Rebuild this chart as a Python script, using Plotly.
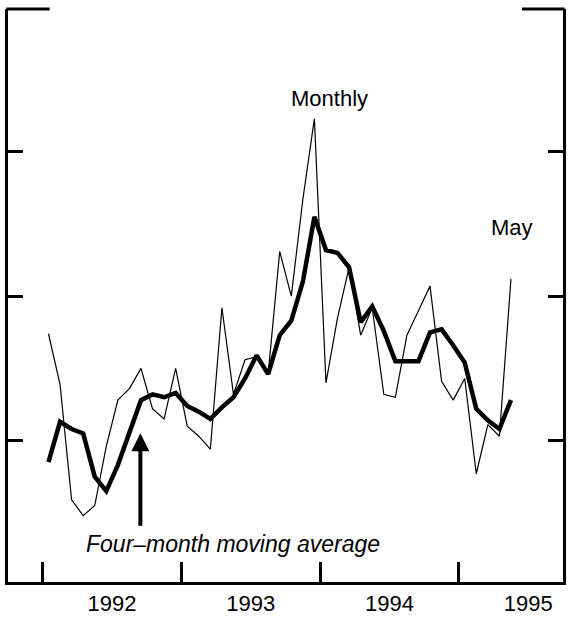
import plotly.graph_objects as go

# Monthly dates: Jan 1992 .. May 1995 (mid-month positions in decimal years)
start_year = 1992
n_months = 41
months = [start_year + (i + 0.5) / 12 for i in range(n_months)]

monthly = [1.74, 1.39, 0.59, 0.48, 0.55, 0.96, 1.28, 1.36, 1.50, 1.22, 1.15, 1.50,
           1.10, 1.03, 0.94, 1.92, 1.32, 1.56, 1.58, 1.46, 2.31, 2.00, 2.67, 3.23,
           1.40, 1.85, 2.20, 1.73, 1.92, 1.32, 1.30, 1.73, 1.90, 2.07, 1.41, 1.28,
           1.43, 0.77, 1.11, 1.03, 2.12]

moving_avg = [0.85, 1.13, 1.08, 1.05, 0.75, 0.65, 0.83, 1.05, 1.28, 1.32, 1.30, 1.33,
              1.24, 1.20, 1.15, 1.23, 1.30, 1.43, 1.59, 1.46, 1.73, 1.83, 2.10, 2.55,
              2.32, 2.30, 2.20, 1.82, 1.93, 1.76, 1.55, 1.55, 1.55, 1.75, 1.77, 1.66,
              1.54, 1.22, 1.14, 1.08, 1.28]

year_ticks = [1992, 1993, 1994, 1995]
year_labels = ["1992", "1993", "1994", "1995"]
y_ticks = [1, 2, 3]

FONT = "Liberation Sans, Arial, sans-serif"

fig = go.Figure()
fig.add_trace(go.Scatter(x=months, y=monthly, mode="lines",
                         line=dict(color="black", width=1.2), name="Monthly"))
fig.add_trace(go.Scatter(x=months, y=moving_avg, mode="lines",
                         line=dict(color="black", width=4.5), name="Four-month moving average"))

fig.update_layout(
    width=568, height=618,
    margin=dict(l=8, r=2, t=9, b=35),
    paper_bgcolor="white", plot_bgcolor="white",
    showlegend=False,
    font=dict(family=FONT, color="black", size=22),
)

fig.update_xaxes(
    range=[1991.75, 1995.75],
    showgrid=False, zeroline=False,
    showline=True, linecolor="black", linewidth=3, mirror=False,
    tickvals=[y + 0.5 for y in year_ticks], ticktext=year_labels,
    ticks="", ticklen=0,
    tickfont=dict(family=FONT, size=22, color="black"),
    minor=dict(tickvals=year_ticks, ticks="inside", ticklen=20, tickwidth=3,
               tickcolor="black", showgrid=False),
)
fig.update_yaxes(
    range=[0.02, 3.99],
    showgrid=False, zeroline=False,
    showline=True, linecolor="black", linewidth=3, mirror="ticks",
    tickvals=y_ticks, ticks="inside", ticklen=15, tickwidth=3, tickcolor="black",
    showticklabels=False,
)

# partial top frame segments at the corners
fig.add_shape(type="line", xref="x domain", yref="y domain",
              x0=-0.003, x1=0.075, y0=1, y1=1, line=dict(color="black", width=3))
fig.add_shape(type="line", xref="x domain", yref="y domain",
              x0=0.926, x1=1.003, y0=1, y1=1, line=dict(color="black", width=3))

fig.add_annotation(x=1994.07, y=3.37, text="Monthly", showarrow=False,
                   font=dict(family=FONT, size=22, color="black"))
fig.add_annotation(x=1995.382, y=2.477, text="May", showarrow=False,
                   font=dict(family=FONT, size=22, color="black"))
fig.add_annotation(x=1993.37, y=0.286, text="<i>Four\u2013month moving average</i>",
                   showarrow=False, font=dict(family=FONT, size=23, color="black"))
fig.add_annotation(x=1992.704, y=1.05, text="", showarrow=True,
                   ax=0, ay=94, arrowhead=2, arrowsize=0.9, arrowwidth=4,
                   arrowcolor="black")

fig.write_html("out.html", config={"displayModeBar": False},
               post_script="document.body.style.margin='0';")
